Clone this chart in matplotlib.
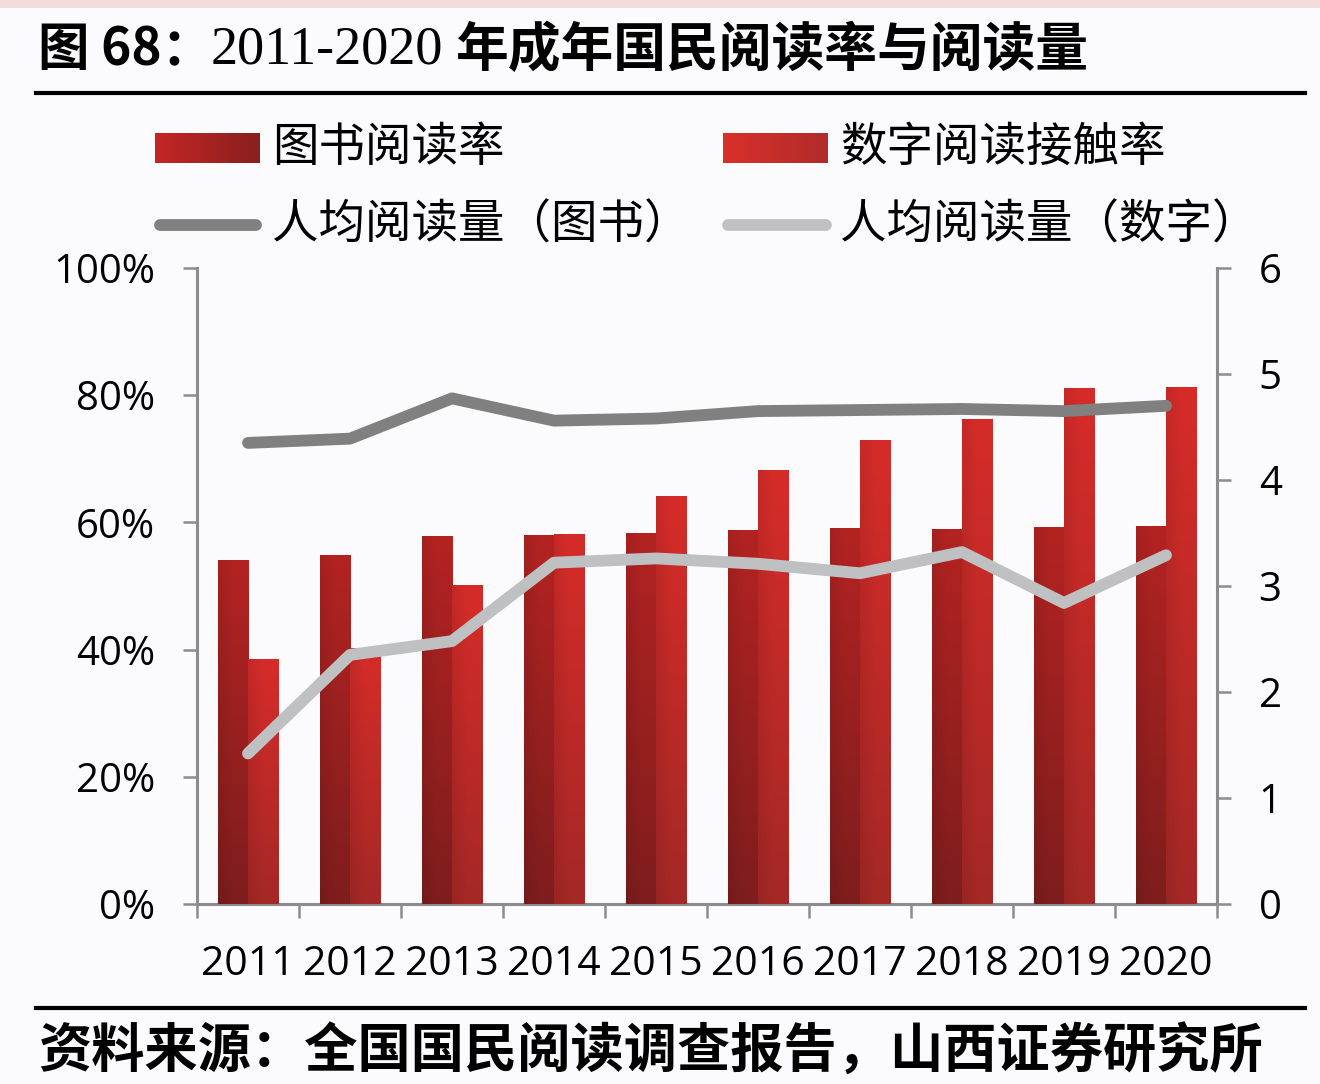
import numpy as np
import matplotlib.pyplot as plt
from matplotlib.patches import Rectangle

plt.rcParams['font.family'] = ['Open Sans', 'Noto Sans CJK SC', 'DejaVu Sans']

# ------------------
# Data
# ------------------
years = ["2011", "2012", "2013", "2014", "2015", "2016", "2017", "2018", "2019", "2020"]
book_rate = [54.1, 54.9, 57.8, 58.0, 58.4, 58.8, 59.1, 59.0, 59.3, 59.5]
digital_rate = [38.6, 40.3, 50.1, 58.1, 64.2, 68.2, 73.0, 76.2, 81.1, 81.3]
book_per_capita = [4.35, 4.39, 4.77, 4.56, 4.58, 4.65, 4.66, 4.67, 4.65, 4.70]
digital_per_capita = [1.42, 2.35, 2.48, 3.22, 3.26, 3.21, 3.12, 3.32, 2.84, 3.29]

labels = ["图书阅读率", "数字阅读接触率", "人均阅读量（图书）", "人均阅读量（数字）"]
title_a = "图 68："
title_b = "2011-2020"
title_c = "年成年国民阅读率与阅读量"
source = "资料来源：全国国民阅读调查报告，山西证券研究所"

AX_GREY = "#8c8c8c"
CJK = ['Noto Sans CJK SC', 'DejaVu Sans']


def hex2rgb(h):
    h = h.lstrip("#")
    return np.array([int(h[i:i + 2], 16) for i in (0, 2, 4)]) / 255.0


def bar_gradient(top, bottom, left_dark=0.08, n=200, m=40):
    t = np.linspace(0, 1, n)[:, None, None]
    s = np.linspace(0, 1, m)[None, :, None]
    col = hex2rgb(top) * (1 - t) + hex2rgb(bottom) * t
    shade = 1 - left_dark * np.clip(1 - s * 2, 0, 1)
    return np.clip(col * shade, 0, 1)


def shade_bars(ax, bars, top, bottom, z):
    img = bar_gradient(top, bottom)
    for r in bars:
        x0, w, h = r.get_x(), r.get_width(), r.get_height()
        im = ax.imshow(img, extent=[x0, x0 + w, 0, h], origin="upper",
                       aspect="auto", interpolation="bilinear", zorder=z)
        im.set_clip_path(r)


fig = plt.figure(figsize=(13.2, 10.84), dpi=100, facecolor="#fbfbfd")

# ------------------
# Main chart
# ------------------
ax = fig.add_axes([197 / 1320, 1 - 904 / 1084, 1020 / 1320, 636 / 1084])
ax.set_facecolor("none")
x = np.arange(len(years))
w = 0.295

b1 = ax.bar(x - w / 2, book_rate, w, color="#9e2020", zorder=2)
b2 = ax.bar(x + w / 2, digital_rate, w, color="#c22a28", zorder=2)
shade_bars(ax, b1, "#b32322", "#7e1d1d", 3)
shade_bars(ax, b2, "#d62c29", "#a42826", 3)

ax.set_xlim(-0.5, len(years) - 0.5)
ax.set_ylim(0, 100)
ax.set_yticks(np.arange(0, 101, 20))
ax.set_yticklabels([f"{v}%" for v in range(0, 101, 20)])
ax.set_xticks(np.arange(-0.5, len(years), 1))
ax.set_xticklabels([])
ax.set_xticks(x, minor=True)
ax.set_xticklabels(years, minor=True)

ax.tick_params(axis="y", direction="out", length=10, width=1.8, color=AX_GREY,
               labelsize=29, pad=20)
ax.tick_params(axis="x", which="major", direction="out", length=10, width=1.8,
               color=AX_GREY)
ax.tick_params(axis="x", which="minor", length=0, labelsize=29.5, pad=29)

for side in ["top", "right"]:
    ax.spines[side].set_visible(False)
for side in ["left", "bottom"]:
    ax.spines[side].set_color(AX_GREY)
    ax.spines[side].set_linewidth(2.2)

ax2 = ax.twinx()
ax2.plot(x, book_per_capita, color="#808080", lw=8.5, solid_capstyle="round",
         solid_joinstyle="round", zorder=5)
ax2.plot(x, digital_per_capita, color="#bfc0c2", lw=8.5, solid_capstyle="round",
         solid_joinstyle="round", zorder=5)
ax2.set_ylim(0, 6)
ax2.set_yticks(range(0, 7))
ax2.tick_params(axis="y", direction="out", length=10, width=1.8, color=AX_GREY,
                labelsize=29, pad=20)
for side in ["top", "left", "bottom"]:
    ax2.spines[side].set_visible(False)
ax2.spines["right"].set_color(AX_GREY)
ax2.spines["right"].set_linewidth(2.2)

# ------------------
# Title, legend, source (pixel overlay)
# ------------------
ov = fig.add_axes([0, 0, 1, 1], zorder=-1)
ov.axis("off")

ov.add_patch(Rectangle((0, 0), 1320, 8, color="#f3dcdc", lw=0))
ov.plot([36, 1305], [93, 93], color="black", lw=3)
ov.plot([36, 1305], [1008, 1008], color="black", lw=3)

ov.text(38, 50, title_a, family=CJK, fontsize=37, va="center", ha="left",
        weight="bold")
ov.text(211, 50, title_b, family=['Liberation Serif', 'DejaVu Serif'], fontsize=39,
        va="center", ha="left")
ov.text(455, 50, title_c, family=CJK, fontsize=38, va="center", ha="left",
        weight="bold")

legend_grad = [("#c42626", "#8a1f1f"), ("#d93029", "#b02c2b")]
for (c0, c1), lx in zip(legend_grad, [155, 723]):
    g = np.linspace(0, 1, 60)[None, :, None]
    img = hex2rgb(c0) * (1 - g) + hex2rgb(c1) * g
    ov.imshow(img, extent=[lx, lx + 105, 163, 133], aspect="auto",
              interpolation="bilinear")

ov.plot([160, 256], [225, 225], color="#808080", lw=8.5, solid_capstyle="round")
ov.plot([728, 826], [225, 225], color="#bfc0c2", lw=8.5, solid_capstyle="round")

for txt, tx, ty in zip(labels, [272, 840, 272, 840], [148, 148, 225, 225]):
    ov.text(tx, ty, txt, family=CJK, fontsize=33.5, va="center", ha="left",
            weight="light")

ov.text(38, 1052, source, family=CJK, fontsize=38.3, va="center", ha="left",
        weight="bold")

ov.set_xlim(0, 1320)
ov.set_ylim(1084, 0)

fig.savefig("out.png", dpi=100, facecolor=fig.get_facecolor())
